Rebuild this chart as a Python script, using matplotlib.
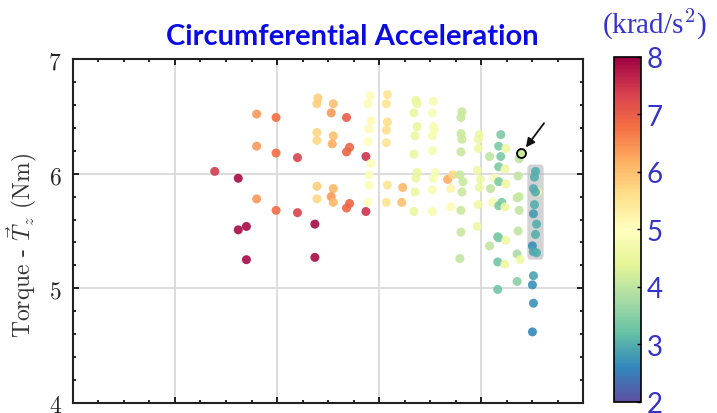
import numpy as np
import matplotlib
matplotlib.use("Agg")
from matplotlib import pyplot as plt
from matplotlib.patches import FancyBboxPatch

plt.rcParams["mathtext.fontset"] = "cm"

BLUE = "#3434c8"

# torque vs. position, colour = circumferential acceleration (krad/s^2)
x_vals = [
    1.39, 1.62, 1.62, 1.70, 1.70, 1.80, 1.80, 1.80, 1.99, 1.99, 1.99, 2.20, 2.20, 2.37, 2.37,
    2.40, 2.39, 2.39, 2.39, 2.39, 2.39,
    2.55, 2.53, 2.68, 2.55, 2.54, 2.71, 2.68, 2.87, 2.55, 2.53, 2.55, 2.71, 2.68, 2.87,
    2.91, 2.89, 2.92, 2.90, 2.89, 2.92, 2.90, 2.90, 2.89,
    3.08, 3.07, 3.08, 3.07, 3.07, 3.08, 3.07,
    3.23, 3.22,
    3.36, 3.37, 3.34, 3.37, 3.35, 3.34, 3.37, 3.36, 3.35, 3.34,
    3.53, 3.52, 3.53, 3.54, 3.52, 3.52, 3.55, 3.53, 3.52, 3.52,
    3.67, 3.72, 3.70, 3.70,
    3.81, 3.80, 3.80, 3.81, 3.80, 3.79, 3.82, 3.81, 3.80, 3.80, 3.79,
    3.98, 3.97, 3.97, 3.96, 3.99, 3.98, 3.97, 3.96,
    4.08, 4.09, 4.08,
    4.13, 4.11,
    4.19, 4.17, 4.19, 4.17, 4.17, 4.17, 4.20, 4.17, 4.16, 4.16, 4.16,
    4.24, 4.23, 4.24, 4.23, 4.24, 4.23,
    4.37, 4.36, 4.35, 4.37, 4.37, 4.36, 4.35, 4.38, 4.35,
    4.55, 4.53, 4.52, 4.51, 4.53, 4.52, 4.51, 4.54, 4.53, 4.50, 4.51, 4.54,
    4.51, 4.50, 4.51, 4.50,
]
y_vals = [
    6.02, 5.96, 5.51, 5.54, 5.25, 6.52, 6.24, 5.78, 6.49, 6.18, 5.68, 6.14, 5.66, 5.56, 5.27,
    6.66, 6.61, 6.36, 6.29, 5.89, 5.78,
    6.61, 6.53, 6.49, 6.33, 6.26, 6.23, 6.19, 6.15, 5.87, 5.80, 5.75, 5.74, 5.70, 5.67,
    6.68, 6.61, 6.46, 6.39, 6.28, 6.09, 5.99, 5.90, 5.75,
    6.69, 6.61, 6.45, 6.38, 6.27, 5.90, 5.75,
    5.88, 5.75,
    6.64, 6.61, 6.53, 6.41, 6.33, 6.17, 6.01, 5.96, 5.84, 5.67,
    6.63, 6.53, 6.41, 6.38, 6.33, 6.20, 6.01, 5.96, 5.86, 5.67,
    5.95, 5.99, 5.87, 5.71,
    6.54, 6.49, 6.35, 6.30, 6.19, 5.99, 5.93, 5.84, 5.68, 5.49, 5.26,
    6.34, 6.30, 6.22, 6.03, 5.95, 5.88, 5.73, 5.54,
    6.15, 5.87, 5.37,
    5.96, 5.75,
    6.34, 6.24, 6.15, 6.06, 5.93, 5.72, 5.75, 5.44, 5.45, 5.23, 4.99,
    6.22, 6.04, 5.91, 5.71, 5.42, 5.21,
    6.13, 5.98, 5.79, 5.80, 5.68, 5.50, 5.30, 5.25, 5.06,
    5.84, 6.02, 5.97, 5.87, 5.84, 5.73, 5.65, 5.56, 5.47, 5.37, 5.32, 5.31,
    5.11, 5.03, 4.87, 4.62,
]
c_vals = [
    7.4, 7.9, 7.9, 7.9, 7.9, 6.4, 6.4, 6.4, 6.8, 6.8, 6.8, 7.3, 7.3, 7.9, 7.9,
    5.8, 5.8, 5.7, 5.7, 5.8, 5.7,
    6.0, 6.4, 7.0, 6.0, 6.2, 6.9, 6.9, 7.5, 6.1, 6.4, 6.1, 6.9, 6.9, 7.5,
    5.1, 5.1, 5.1, 5.1, 5.0, 4.9, 4.9, 4.9, 5.0,
    5.5, 5.5, 5.6, 5.6, 5.5, 5.5, 5.5,
    6.1, 6.0,
    4.5, 4.5, 4.5, 4.5, 4.5, 4.5, 4.5, 4.5, 4.5, 4.5,
    4.8, 4.8, 4.8, 4.8, 4.8, 4.8, 4.8, 4.8, 4.8, 4.8,
    6.2, 5.7, 5.2, 5.1,
    4.1, 4.1, 4.1, 4.1, 4.1, 4.1, 4.1, 4.1, 4.1, 4.1, 4.0,
    4.6, 4.6, 4.6, 4.6, 4.6, 4.6, 4.6, 4.6,
    4.0, 4.0, 4.0,
    4.8, 4.8,
    3.4, 3.4, 3.4, 3.4, 3.4, 3.4, 3.4, 3.4, 3.4, 3.3, 3.3,
    4.6, 4.6, 4.6, 4.6, 4.6, 4.6,
    4.0, 4.0, 4.0, 4.1, 4.0, 4.0, 3.8, 4.6, 3.5,
    4.6, 3.0, 3.0, 3.0, 3.0, 3.0, 2.8, 3.0, 3.0, 2.7, 2.9, 3.0,
    2.9, 2.7, 2.7, 2.6,
]

# highlighted sample and the boxed column
marked = (4.39, 6.18, 4.1)
box_x = (4.45, 4.61)
box_y = (5.25, 6.08)
arrow_tail = (4.63, 6.46)

fig = plt.figure(figsize=(7.17, 4.14), dpi=100)
ax = fig.add_axes([0.1015, 0.0242, 0.7123, 0.8308])

ax.set_xlim(0, 5)
ax.set_ylim(4, 7)
ax.set_xticks([0, 1, 2, 3, 4, 5])
ax.set_xticks(np.arange(0, 5.01, 0.25), minor=True)
ax.set_yticks([4, 5, 6, 7])
ax.set_yticks(np.arange(4, 7.01, 0.2), minor=True)
ax.set_xticklabels([])
ax.set_yticklabels(["$4$", "$5$", "$6$", "$7$"], fontsize=17, color="#262626")
ax.tick_params(which="both", direction="in", top=True, right=True, width=1.2)
ax.tick_params(which="major", length=4, pad=8)
ax.tick_params(which="minor", length=2.5)
ax.grid(True, which="major", color="#d9d9d9", linewidth=1.3)
ax.set_axisbelow(True)
for s in ax.spines.values():
    s.set_linewidth(1.5)
    s.set_color("#222222")

ax.set_ylabel(r"Torque - $\vec{T}_z$ (Nm)", fontsize=17, color="#333333", family="cmr10")
ax.yaxis.set_label_coords(-0.064, 0.46)

box = FancyBboxPatch((box_x[0], box_y[0]), box_x[1] - box_x[0], box_y[1] - box_y[0],
                     boxstyle="round,pad=0,rounding_size=0.03", facecolor="#b0b0b0",
                     edgecolor="none", alpha=0.55, zorder=1, mutation_aspect=1.5)
ax.add_patch(box)

sc = ax.scatter(x_vals, y_vals, c=c_vals, cmap="Spectral_r", vmin=2, vmax=8,
                s=42, alpha=0.9, linewidths=0, zorder=2)
ax.scatter([marked[0]], [marked[1]], c=[marked[2]], cmap="Spectral_r", vmin=2, vmax=8,
           s=42, edgecolors="black", linewidths=1.3, zorder=3)
ax.annotate("", xy=(marked[0] + 0.03, marked[1] + 0.03), xytext=arrow_tail,
            arrowprops=dict(arrowstyle="-|>", color="#111111", lw=1.3, mutation_scale=13),
            zorder=4)

fig.text(0.492, 0.91, "Circumferential Acceleration", ha="center", va="center",
         fontsize=21, fontweight="bold", color="#0a0ae6", family="Lato")

cax = fig.add_axes([0.8563, 0.0266, 0.0377, 0.8334])
cb = fig.colorbar(sc, cax=cax)
cb.solids.set_alpha(1)
cb.set_ticks([2, 3, 4, 5, 6, 7, 8])
cb.ax.tick_params(direction="in", length=3, width=1, labelsize=20, labelcolor=BLUE, pad=4)
for lab in cb.ax.get_yticklabels():
    lab.set_family("Lato")
cb.outline.set_linewidth(1.2)
fig.text(0.913, 0.942, r"(krad/s$^2$)", ha="center", va="center", fontsize=21,
         color=BLUE, family="Liberation Serif")

fig.savefig("out.png", dpi=100)
